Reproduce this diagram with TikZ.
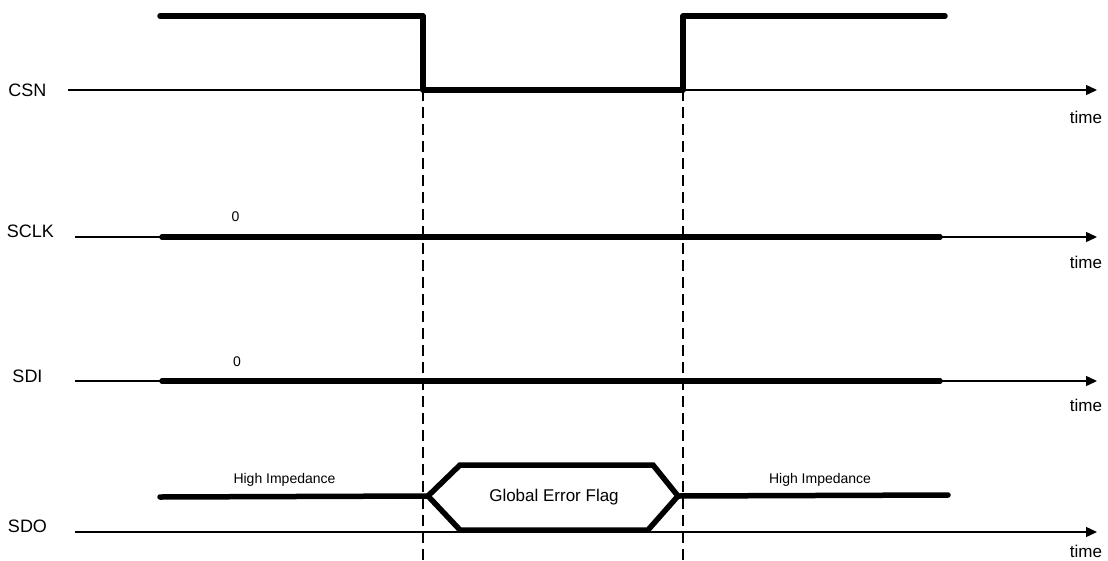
\documentclass[tikz,border=0pt]{standalone}
\usepackage{fontspec}
\setmainfont{Liberation Sans}
\usetikzlibrary{arrows.meta}

\begin{document}
\begin{tikzpicture}[
        x=1pt, y=-1pt,
        axis/.style = {line width=1.4pt, -{Triangle[length=11pt,width=10pt]}},
        sig/.style = {line width=5.5pt, line cap=round, line join=round},
        edge/.style = {line width=1.2pt, dash pattern=on 11pt off 6pt},
        lbl/.style = {font=\fontsize{18}{20}\selectfont, inner sep=0pt},
        tlbl/.style = {font=\fontsize{17}{19}\selectfont, inner sep=0pt},
        val/.style = {font=\fontsize{14}{16}\selectfont, inner sep=0pt},
]
        \useasboundingbox (0,0) rectangle (1108,560);
        % time axes
        \foreach \sig/\lx/\ly/\ax/\ay/\ty in {CSN/27.5/90/68/90/117,
                SCLK/30.5/231/75/237/262, SDI/27.5/376/75/381/405,
                SDO/27.5/526/75/532/551} {
            \node[lbl] (\sig) at (\lx,\ly) {\sig};
            \coordinate (\sig-s) at (\ax,\ay);
            \coordinate (\sig-e) at (1097,\ay);
            \draw [axis] (\sig-s) -- (\sig-e);
            \node[tlbl] (\sig-t) at (1086,\ty) {time};
        }
        % edges of CSN
        \coordinate (fall) at (423,90);
        \coordinate (rise) at (683,90);
        \draw [edge] (fall) -- (fall |- 0,560);
        \draw [edge] (rise) -- (rise |- 0,560);
        \draw [sig] (160,16) -| (fall) -- (rise) |- (945,16);
        % SCLK and SDI
        \draw [sig] (162,237) -- (940,237);
        \node[val] (clk0) at (235.5,217) {0};
        \draw [sig] (162,381) -- (940,381);
        \node[val] (sdi0) at (237,362) {0};
        % SDO
        \coordinate (hl) at (428,496);
        \coordinate (hr) at (678,496);
        \draw [sig] (160,497) -- (hl);
        \draw [sig] (hr) -- (948,495);
        \draw [sig, line join=miter] (hl) -- (460,465) -- (653,465) -- (hr)
            -- (648,530) -- (460,530) -- cycle;
        \node[tlbl] (gef) at (554,497) {Global Error Flag};
        \node[val] (hiz1) at (284.5,480) {High Impedance};
        \node[val] (hiz2) at (820,480) {High Impedance};
\end{tikzpicture}
\end{document}
